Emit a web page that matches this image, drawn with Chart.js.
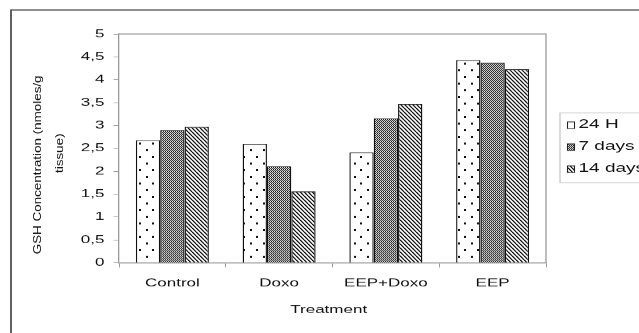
<!DOCTYPE html>
<html>
<head>
<meta charset="utf-8">
<script src="https://cdn.jsdelivr.net/npm/chart.js@4/dist/chart.umd.min.js"></script>
<style>
  html, body { margin: 0; padding: 0; background: #fff; overflow: hidden; }
  /* the chart is laid out on a taller canvas and pressed to 333px high */
  #wrap { width: 639px; height: 500px; transform: scaleY(0.666); transform-origin: 0 0; }
</style>
</head>
<body>
<div id="wrap"><canvas id="c" width="639" height="500"></canvas></div>
<script>
// GSH concentration (nmoles/g tissue) per treatment group and time point
const categories = ['Control', 'Doxo', 'EEP+Doxo', 'EEP'];
const seriesNames = ['24 H', '7 days', '14 days'];
const h24 = [2.68, 2.60, 2.41, 4.43];
const days7 = [2.90, 2.11, 3.16, 4.37];
const days14 = [2.97, 1.56, 3.47, 4.23];
const yTicks = { min: 0, max: 5, step: 0.5 };
const yTitleLines = ['GSH Concentration (nmoles/g', 'tissue)'];
const xTitle = 'Treatment';

const FONT = '"Liberation Sans", Arial, sans-serif';
const INK = '#111';
const AXIS = '#9a9a9a';

function tile(w, h, paint) {
  const t = document.createElement('canvas');
  t.width = w; t.height = h;
  const g = t.getContext('2d');
  paint(g, w, h);
  return document.getElementById('c').getContext('2d').createPattern(t, 'repeat');
}

// sparse staggered dots
const dots = tile(13, 20, (g, w, h) => {
  g.fillStyle = '#fff'; g.fillRect(0, 0, w, h);
  g.fillStyle = '#111';
  g.fillRect(3, 4, 2, 3);
  g.fillRect(9, 14, 2, 3);
});
// fine checkerboard, rows sized for the vertical squeeze
const checker = tile(2, 3, (g) => {
  g.fillStyle = '#e6e6e6'; g.fillRect(0, 0, 2, 3);
  g.fillStyle = '#1a1a1a';
  g.fillRect(0, 0, 1, 1);
  g.fillRect(1, 2, 1, 1);
  g.fillStyle = '#808080';
  g.fillRect(0, 1, 2, 1);
});
// downward diagonal stripes
const stripes = tile(4, 6, (g, w, h) => {
  g.fillStyle = '#fff'; g.fillRect(0, 0, w, h);
  g.strokeStyle = '#111'; g.lineWidth = 1.5;
  for (let k = -2; k <= 2; k++) {
    g.beginPath(); g.moveTo(k * w, 0); g.lineTo(k * w + w, h); g.stroke();
  }
});

const fills = [dots, checker, stripes];
const values = [h24, days7, days14];

const decor = {
  id: 'decor',
  beforeDraw(chart) {
    const ctx = chart.ctx;
    ctx.save();
    ctx.fillStyle = '#fff';
    ctx.fillRect(0, 0, chart.width, chart.height);
    // outer frame: top and left edges
    ctx.strokeStyle = '#3a3a3a';
    ctx.lineWidth = 1.6;
    ctx.beginPath();
    ctx.moveTo(11, chart.height); ctx.lineTo(11, 15); ctx.lineTo(chart.width, 15);
    ctx.stroke();
    ctx.restore();
  },
  beforeDatasetsDraw(chart) {
    const { ctx, chartArea: a } = chart;
    ctx.save();
    ctx.strokeStyle = AXIS;
    ctx.lineWidth = 1.3;
    ctx.beginPath();
    ctx.moveTo(a.left, a.top); ctx.lineTo(a.right, a.top); ctx.lineTo(a.right, a.bottom);
    ctx.stroke();
    ctx.restore();
  },
  afterDraw(chart) {
    const ctx = chart.ctx;
    ctx.save();
    ctx.fillStyle = INK;

    // y-axis title, two rotated lines
    ctx.font = '11.5px ' + FONT;
    ctx.textAlign = 'center';
    ctx.textBaseline = 'alphabetic';
    const yt = [[41.4, 247.5], [63.1, 230]];
    yTitleLines.forEach((s, i) => {
      ctx.save();
      ctx.translate(yt[i][0], yt[i][1]);
      ctx.rotate(-Math.PI / 2);
      ctx.scale(1.75, 1);
      ctx.fillText(s, 0, 0);
      ctx.restore();
    });

    // x-axis title
    ctx.font = '17px ' + FONT;
    ctx.textBaseline = 'middle';
    ctx.fillText(xTitle, 328.7, 465);

    // legend
    ctx.strokeStyle = '#c8c8c8';
    ctx.lineWidth = 1.3;
    ctx.strokeRect(560, 169.5, 100, 105);
    ctx.font = '19px ' + FONT;
    ctx.textAlign = 'left';
    const rows = [187, 220, 253];
    chart.data.datasets.forEach((ds, i) => {
      const y = rows[i];
      ctx.fillStyle = ds.backgroundColor;
      ctx.fillRect(567.5, y - 4, 7, 10);
      ctx.strokeStyle = '#222';
      ctx.lineWidth = 1.1;
      ctx.strokeRect(567.5, y - 4, 7, 10);
      ctx.fillStyle = INK;
      ctx.fillText(ds.label, 578.5, y);
    });
    ctx.restore();
  }
};

new Chart(document.getElementById('c'), {
  type: 'bar',
  data: {
    labels: categories,
    datasets: seriesNames.map((name, i) => ({
      label: name,
      data: values[i],
      backgroundColor: fills[i],
      borderColor: '#111',
      borderWidth: 1.4,
      categoryPercentage: 0.684,
      barPercentage: 1
    }))
  },
  options: {
    responsive: false,
    animation: false,
    layout: { padding: { left: 0, top: 51, right: 93, bottom: 0 } },
    plugins: { legend: { display: false }, tooltip: { enabled: false } },
    scales: {
      x: {
        grid: { offset: true, drawOnChartArea: false, drawTicks: true, tickLength: 7, color: AXIS, lineWidth: 1 },
        border: { display: true, color: AXIS, width: 1.5 },
        ticks: { color: INK, font: { family: FONT, size: 17 }, padding: 14, maxRotation: 0 },
        afterFit: (s) => { s.height = 105.5; }
      },
      y: {
        min: yTicks.min,
        max: yTicks.max,
        grid: { drawOnChartArea: false, drawTicks: true, tickLength: 5.5, color: AXIS, lineWidth: 1 },
        border: { display: true, color: AXIS, width: 1.3 },
        ticks: {
          stepSize: yTicks.step,
          color: INK,
          font: { family: FONT, size: 17 },
          padding: 9,
          callback: (v) => String(v).replace('.', ',')
        },
        afterFit: (s) => { s.width = 119; }
      }
    }
  },
  plugins: [decor]
});
</script>
</body>
</html>
